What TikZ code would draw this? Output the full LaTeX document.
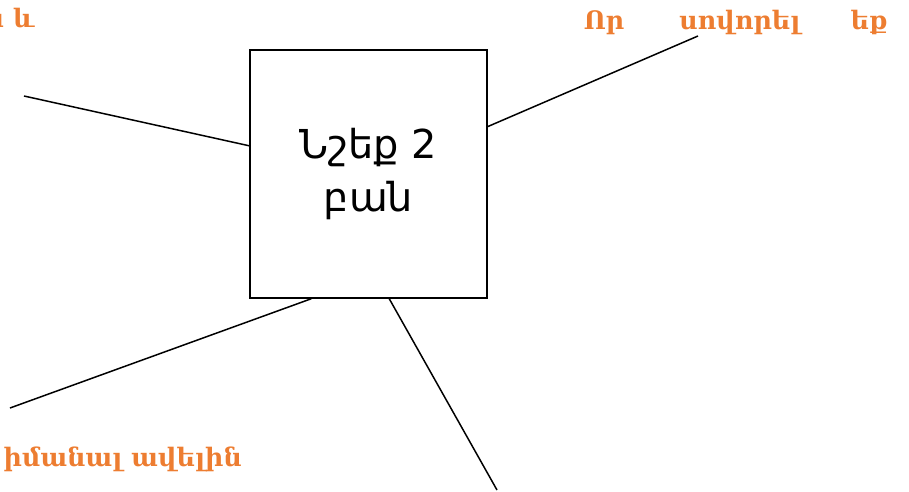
\documentclass[tikz,border=0pt]{standalone}
\usepackage{fontspec}
\setmainfont{DejaVu Sans}
\newfontfamily\hyserif{DejaVu Serif}
\usetikzlibrary{calc}

\definecolor{hintorange}{RGB}{237,125,49}
\tikzset{
every picture/.style={
line width=1.5pt
}}

\begin{document}
\begin{tikzpicture}[x=1bp,y=-1bp,
  taskbox/.style={draw, minimum width=237bp, minimum height=248bp, align=center, font=\fontsize{40}{53}\selectfont},
  hint/.style={text=hintorange, inner sep=0pt, font=\hyserif\bfseries\fontsize{25.5}{30}\selectfont}]

\clip (0,0) rectangle (909,492);

\node[taskbox] (task) at (368.5,174) {Նշեք 2\\բան};

% free ends of the lines
\coordinate (nw end) at (24,96);
\coordinate (ne end) at (698,36);
\coordinate (sw end) at (10,408);
\coordinate (s end) at (497,490);

\draw ($(task.north west)!0.387!(task.south west)$) -- (nw end);
\draw ($(task.north east)!0.31!(task.south east)$) -- (ne end);
\draw ($(task.south west)!0.26!(task.south east)$) -- (sw end);
\draw ($(task.south west)!0.587!(task.south east)$) -- (s end);

\node[hint, anchor=base east] (nw text) at (35,28) {ա և};
\node[hint, anchor=base west] (ne text) at (583,30) {Որ\hspace{55bp}սովորել\hspace{50bp}եք};
\node[hint, anchor=base west] (sw text) at (3,466) {իմանալ ավելին};
\end{tikzpicture}
\end{document}
